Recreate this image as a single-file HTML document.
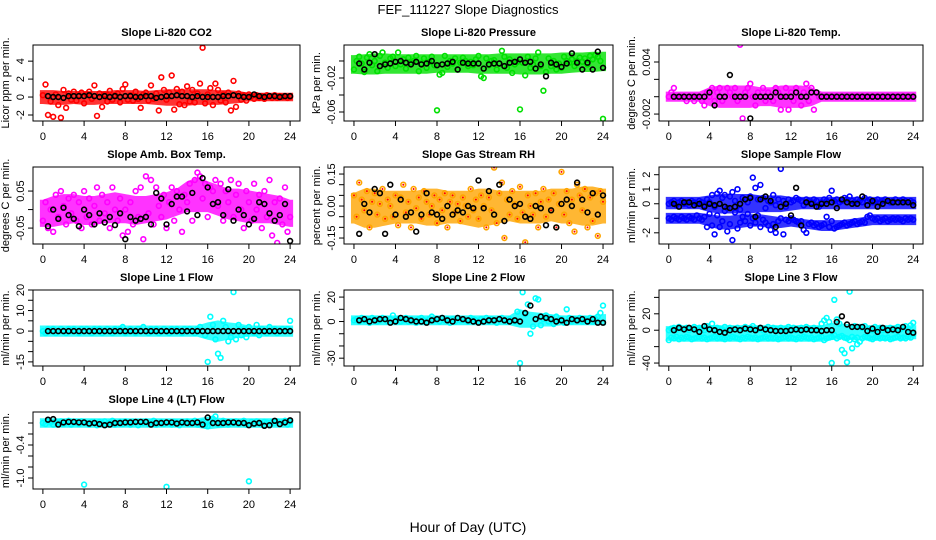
<!DOCTYPE html>
<html><head><meta charset="utf-8">
<style>
html,body{margin:0;padding:0;background:#fff;}
svg{display:block;font-family:"Liberation Sans",Arial,sans-serif;}
</style></head>
<body>
<svg id="chart" width="936" height="540" viewBox="0 0 936 540">
<text x="468" y="14" text-anchor="middle" font-size="13">FEF_111227  Slope Diagnostics</text>
<text x="468" y="532" text-anchor="middle" font-size="14">Hour of Day (UTC)</text>
</svg>
<script>
// ---- data ----
const co2Color = [0.2,1.4,-2.0,-0.5,-2.2,0.3,-0.9,-2.3,0.8,-1.2,0.4,-0.3,0.6,-0.4,0.2,0.5,-0.7,0.3,0.6,-0.2,1.3,-2.1,0.4,-1.1,0.3,-0.5,0.7,-0.3,0.2,0.4,-0.6,0.9,1.4,-0.3,0.2,-0.4,0.6,-0.2,-1.2,0.3,0.5,-0.4,1.3,-0.2,0.4,-1.5,2.2,0.8,-0.3,0.5,2.4,-1.4,0.9,-0.8,0.6,-0.9,1.2,-0.5,0.8,-0.6,0.4,1.5,5.5,-0.7,0.3,1.0,-0.9,1.5,0.8,-0.4,0.3,-0.6,0.5,-1.5,1.8,-1.1,0.4,-0.3,0.2,-0.4,0.3,0.1,-0.2,0.2,-0.1,0.1,-0.2,0.2,0.1,-0.1,0.2,-0.1,0.1,0.0,0.1,-0.1,0.0];
const co2Black = [0.1,0,0,-0.1,0.1,0.1,0.1,0.1,0.2,0.1,0,0.1,0,0.1,0,0.1,0.1,0,0,0.1,0.1,-0.1,0,0.1,0.1,0.2,0.1,0.1,0,0.1,0,0,0,0,0.1,0.1,0.2,0.1,0,0,0.3,0.1,0,0.1,0.1,0,0.1,0.1];
const co2BandLo = [-0.5,-0.6,-0.6,-0.5,-0.6,-0.6,-0.5,-0.5,-0.5,-0.5,-0.5,-0.6,-0.7,-0.7,-0.7,-0.6,-0.6,-0.6,-0.5,-0.4,-0.2,-0.2,-0.2,-0.2,-0.2];
const co2BandHi = [0.5,0.5,0.4,0.4,0.4,0.4,0.4,0.5,0.5,0.5,0.4,0.5,0.6,0.6,0.6,0.6,0.6,0.5,0.5,0.4,0.2,0.2,0.2,0.2,0.2];
// pressure in units of 0.001 kPa/min
const presColor = [-10,0,5,-3,-13,4,8,-5,0,-12,6,10,-2,-8,3,5,-6,10,-4,2,-9,4,-2,0,6,-12,-3,3,-8,-1,5,-5,-58,-16,-14,6,-7,0,-3,3,-10,-2,4,0,-6,-1,-5,2,6,-18,-20,3,-5,0,1,-10,-3,12,5,-8,2,-14,-4,-1,-57,-2,-17,5,-8,-4,3,10,-6,-35,-13,3,-6,0,-10,-3,-8,5,0,-2,2,-6,0,4,-1,3,-4,6,2,7,5,0,-68];
const presBlack = [-3,-10,-2,8,-6,-4,-3,-1,0,-2,-4,-1,-4,-3,0,-5,-4,-3,-1,-10,-2,-3,-3,-3,-9,-4,-3,-3,-6,-2,-1,2,-2,-1,-9,-4,-18,-2,-4,-7,-3,9,-2,-10,-2,-10,11,-8];
const presBandLo = [-12,-13,-13,-12,-12,-12,-12,-12,-11,-11,-11,-11,-12,-12,-12,-12,-13,-13,-13,-12,-12,-11,-10,-10,-9];
const presBandHi = [4,5,6,6,5,5,5,5,5,5,5,5,5,5,6,6,6,6,6,6,7,7,7,8,8];
// Li-820 temp in units of 0.001 C/min
const tempColor = [0,0.5,1,0,0,0,0,-0.5,0,0,-0.5,0,0,-0.5,-1,0.5,0,1,-0.5,0.5,1,-0.5,0,1,0.5,0,1,-0.5,6,-2.5,0.5,1,1.5,0,-1,0.5,0,1,-0.5,0.5,0,-0.5,1,0.5,-1.5,0,1,-1.5,0.5,-0.5,1,0,-1,0.5,1.5,-0.5,1,-1.5,0.5,0,0,0,0,0,0,0,0,0,0,0,0,0,0,0,0,0,0,0,0,0,0,0,0,0,0,0,0,0,0,0,0,0,0,0,0,0,0];
const tempBlack = [0,0,0,0,0,0,0,0.5,-1,0,0,2.5,0,0,0,-2.5,0,0,0,0,0.5,0,0,0,0.5,0,0,0.5,0.5,0,0,0,0,0,0,0,0,0,0,0,0,0,0,0,0,0,0,0];
const tempBandLo = [-0.3,-0.3,-0.3,-0.3,-0.8,-1,-1,-1,-1,-0.8,-0.8,-1,-1,-1,-0.8,-0.3,-0.3,-0.3,-0.3,-0.3,-0.3,-0.3,-0.3,-0.3,-0.3];
const tempBandHi = [0.3,0.3,0.3,0.3,0.8,1,1,1,1,0.8,0.8,1,1,1,0.8,0.3,0.3,0.3,0.3,0.3,0.3,0.3,0.3,0.3,0.3];
const boxColor = [-0.03,0.02,-0.05,0.0,-0.06,0.04,-0.02,0.05,0.01,-0.04,0.03,-0.01,0.04,-0.03,0.02,-0.05,0.05,-0.02,0.03,-0.04,0.01,0.06,-0.03,0.04,-0.01,0.02,-0.05,0.06,0.0,-0.03,0.03,-0.07,0.0,-0.06,0.02,-0.04,0.05,-0.02,0.06,-0.08,0.09,-0.01,0.08,-0.04,0.06,0.01,-0.02,0.04,-0.05,0.02,0.06,-0.03,0.05,0.0,-0.06,0.04,0.02,0.07,-0.03,0.08,0.1,0.09,0.03,0.07,-0.02,0.06,0.05,0.08,0.01,0.07,-0.03,0.05,0.02,0.08,-0.02,0.04,0.07,0.0,-0.05,0.05,0.02,-0.03,0.07,0.0,0.04,-0.05,0.05,-0.02,0.08,-0.07,0.02,-0.09,0.03,-0.04,0.06,-0.06,-0.02];
const boxBlack = [-0.045,0.0,-0.025,0.005,-0.015,-0.025,-0.045,0.0,-0.015,-0.04,-0.01,-0.035,-0.02,-0.042,-0.01,-0.08,-0.02,-0.03,-0.025,-0.02,-0.04,0.045,0.03,-0.04,0.015,0.035,0.035,-0.005,0.045,-0.015,0.085,0.06,0.015,0.02,-0.015,0.055,-0.03,0.0,-0.015,-0.04,-0.025,0.02,0.015,-0.01,-0.03,-0.015,0.015,-0.085];
const boxBandLo = [-0.04,-0.04,-0.035,-0.03,-0.035,-0.035,-0.03,-0.03,-0.03,-0.035,-0.03,-0.025,-0.02,-0.01,0.0,0.0,0.0,-0.01,-0.02,-0.025,-0.03,-0.03,-0.03,-0.035,-0.04];
const boxBandHi = [0.02,0.03,0.035,0.035,0.03,0.03,0.035,0.04,0.035,0.03,0.03,0.035,0.04,0.05,0.07,0.08,0.07,0.06,0.05,0.05,0.045,0.04,0.035,0.03,0.02];
const rhColor = [0.05,-0.05,0.11,0.03,-0.02,0.07,-0.1,0.02,0.06,-0.04,0.01,0.08,-0.06,0.03,0.0,-0.05,0.05,-0.09,0.04,0.1,-0.03,0.02,-0.1,0.08,-0.01,0.04,-0.06,0.07,0.02,-0.04,0.0,0.05,-0.08,0.03,-0.02,0.06,-0.1,0.02,0.05,-0.03,0.01,-0.07,0.04,0.0,-0.05,0.08,-0.02,0.03,-0.06,0.05,0.0,-0.1,0.04,-0.02,0.18,-0.08,0.06,0.11,-0.15,0.03,-0.04,0.07,0.01,-0.06,0.09,-0.03,-0.17,0.05,0.0,-0.04,0.06,-0.1,0.02,0.08,-0.05,0.03,-0.02,0.06,-0.1,0.01,0.16,-0.04,0.07,-0.08,0.03,-0.12,0.1,0.05,-0.02,0.08,-0.1,0.04,-0.07,0.06,-0.14,0.07,0.02];
const rhBlack = [-0.13,0.01,-0.03,0.08,0.06,-0.13,0.1,-0.04,0.03,-0.05,-0.03,-0.12,-0.04,0.06,-0.03,-0.04,-0.06,0.0,-0.04,-0.02,-0.03,0.0,-0.01,0.12,-0.01,0.07,-0.04,0.1,-0.07,0.03,0.0,0.01,-0.05,-0.06,0.0,-0.01,-0.09,-0.02,-0.1,0.01,0.03,0.0,0.11,0.03,-0.03,0.06,-0.04,0.05];
const rhBandLo = [-0.07,-0.09,-0.09,-0.08,-0.07,-0.07,-0.07,-0.08,-0.08,-0.07,-0.07,-0.08,-0.09,-0.08,-0.07,-0.06,-0.07,-0.07,-0.07,-0.06,-0.07,-0.07,-0.08,-0.08,-0.07];
const rhBandHi = [0.05,0.07,0.07,0.06,0.06,0.06,0.06,0.07,0.07,0.06,0.06,0.06,0.07,0.07,0.06,0.06,0.06,0.06,0.06,0.07,0.07,0.07,0.08,0.08,0.07];
const sampleUpper = [0,0.1,0.2,-0.1,0.1,0.2,0,0.1,-0.1,0.2,0.1,0,0.2,0.1,-0.1,0.3,0.1,0.6,-0.2,0.7,0.9,0.4,0.6,-0.3,0.5,0.8,0.2,1.0,-0.4,0.4,0.3,0.1,0.5,1.8,1.1,0.3,1.3,0.4,-0.3,0.2,0.1,0.6,-0.1,0.3,2.4,0.2,-0.2,0.3,0.1,0.2,0.4,0.3,0.2,-0.1,0.3,0.2,0.1,0.3,0.2,-0.2,0.1,0.3,0.2,0.4,0.9,0.2,0.3,0.1,0.2,0.4,0.3,0.5,0.2,0.1,0.3,0.2,0.1,0.4,0.2,0.3,0.1,0.2,0.3,0.1,0.2,0.3,0.2,0.1,0.2,0.3,0.1,0.2,0.3,0.2,0.1,0.2,0.1];
const sampleLower = [-1.0,-1.1,-0.9,-1.0,-1.1,-0.9,-1.0,-1.1,-0.9,-1.0,-1.1,-0.8,-1.0,-1.1,-0.9,-1.6,-0.7,-1.5,-2.1,-0.8,-1.6,-1.2,-0.5,-1.9,-1.4,-2.5,-0.6,-1.7,-1.3,-0.9,-1.2,-0.7,-1.5,-1.0,-1.3,-0.8,-1.6,-1.1,-1.3,-1.5,-1.8,-1.4,-2.0,-1.2,-1.0,-2.1,-1.1,-1.2,-1.0,-1.1,-1.2,-1.3,-1.2,-1.8,-2.0,-1.4,-1.3,-1.5,-1.4,-1.6,-1.5,-1.4,-0.9,-1.6,-1.2,-1.7,-1.6,-1.5,-1.4,-1.3,-1.5,-1.4,-1.3,-1.2,-1.4,-1.3,-1.2,-1.3,-0.9,-0.8,-1.0,-1.1,-1.0,-1.2,-1.1,-1.0,-1.2,-1.1,-1.0,-1.1,-1.0,-1.1,-1.2,-1.0,-1.1,-1.0,-1.1];
const sampleBlack = [0,-0.2,0.1,0.1,-0.1,0,-0.2,0,-0.1,0,-0.2,-0.3,-0.2,0,0.3,0.4,-0.9,0.3,0.5,0.2,-1.6,-0.2,0,-0.8,1.1,-1.5,0.1,0,-0.2,0,0,0.1,-0.3,0.3,0.1,0,0,0.5,-0.1,0.2,-0.2,0,0.2,0.1,0.1,0.1,0.1,-0.1];
const sampleBandLo = [-0.2,-0.2,-0.2,-0.2,-0.4,-0.5,-0.5,-0.5,-0.5,-0.4,-0.4,-0.4,-0.3,-0.2,-0.2,-0.2,-0.2,-0.2,-0.2,-0.2,-0.2,-0.2,-0.2,-0.2,-0.2];
const sampleBandHi = [0.3,0.3,0.3,0.3,0.4,0.5,0.5,0.5,0.5,0.4,0.4,0.4,0.3,0.3,0.3,0.3,0.3,0.3,0.3,0.3,0.3,0.3,0.3,0.3,0.3];
const sampleLowBandLo = [-1.2,-1.2,-1.2,-1.2,-1.4,-1.6,-1.6,-1.5,-1.4,-1.4,-1.5,-1.5,-1.4,-1.5,-1.6,-1.7,-1.7,-1.6,-1.5,-1.4,-1.3,-1.3,-1.3,-1.3,-1.3];
const sampleLowBandHi = [-0.8,-0.8,-0.8,-0.8,-0.9,-1.0,-1.0,-0.9,-0.9,-0.9,-1.0,-1.1,-1.1,-1.2,-1.3,-1.3,-1.3,-1.3,-1.2,-1.1,-0.9,-0.9,-0.9,-0.9,-0.9];
const line1Color = [0,-1,1,0,1,-1,0,1,0,-1,1,0,1,0,-1,1,0,1,0,-1,1,0,1,-1,0,1,0,-1,1,0,1,2,-1,0,1,0,-1,1,0,2,0,-1,1,0,1,-1,0,1,0,-1,1,0,1,0,-1,1,0,1,0,-1,1,2,0,-2,-15,7,3,-4,-11,-13,5,2,-5,-3,19,-4,3,-2,1,-3,2,0,-1,3,-2,1,0,-1,2,0,1,-1,0,1,0,1,5];
const line1Black = [0,0,0,0,0,0,0,0,0,0,0,0,0,0,0,0,0,0,0,0,0,0,0,0,0,0,0,0,0,0,0,0,0,0,0,0,0,0,0,0,0,0,0,0,0,0,0,0];
const line1BandLo = [-1.5,-1.5,-1.5,-1.5,-1.5,-1.5,-1.5,-1.5,-1.5,-1.5,-1.5,-1.5,-1.5,-1.5,-1.5,-1.5,-3,-4,-3,-2,-1.5,-1.5,-1.5,-1.5,-1.5];
const line1BandHi = [1.5,1.5,1.5,1.5,1.5,1.5,1.5,1.5,1.5,1.5,1.5,1.5,1.5,1.5,1.5,1.5,3,4,3,2.5,1.5,1.5,1.5,1.5,1.5];
const line2Color = [1,2,0,3,1,2,-1,3,2,0,1,3,2,0,2,5,1,2,0,1,3,0,2,1,-1,2,3,1,0,2,4,1,2,0,3,1,2,-1,2,0,3,1,2,1,0,3,2,1,0,2,1,3,0,2,1,-1,2,3,1,0,2,1,0,8,-34,24,6,14,-10,-4,19,18,-3,2,5,0,3,-2,4,1,2,-1,10,3,0,2,1,3,0,2,1,3,0,2,4,7,13];
const line2Black = [1,2,0,1,2,2,-1,0,3,2,1,0,0,-1,1,2,3,1,0,3,2,1,0,-1,0,1,1,2,1,0,1,0,7,13,2,4,3,2,0,1,-1,2,1,2,0,2,-1,-1];
const line2BandLo = [-1,-1,-1,-1,-1,-1,-1,-1,-1,-1,-1,-1,-1,-1,-1,-1,-3,-3,-2,-2,-1,-1,-1,-1,-1];
const line2BandHi = [3,3,3,3,3,3,3,3,3,3,3,3,3,3,3,3,8,6,5,4,3,3,3,3,4];
const line3Upper = [0,2,3,1,4,2,1,3,0,2,4,1,3,2,0,5,2,8,1,3,2,1,4,0,3,2,1,3,0,2,4,1,3,5,2,1,3,0,2,4,1,3,2,0,3,1,2,4,1,3,0,2,3,1,4,2,0,3,1,2,8,12,15,10,-40,37,13,8,-24,-28,-39,47,-22,5,-17,4,3,5,-8,2,0,4,1,3,0,2,1,3,0,2,4,1,3,5,2,6,9];
const line3Lower = [-12,-9,-10,-8,-11,-9,-10,-8,-9,-11,-10,-9,-8,-10,-9,-11,-10,-9,-8,-10,-9,-10,-11,-9,-10,-8,-9,-10,-11,-9,-10,-8,-9,-10,-9,-11,-10,-9,-8,-10,-9,-10,-9,-11,-10,-9,-8,-10,-9,-10,-11,-9,-10,-8,-9,-10,-9,-11,-10,-9,-8,-12,-10,-9,-8,-6,-10,-8,-7,-9,-10,-12,-8,-11,-9,-14,-10,-8,-9,-10,-11,-9,-8,-10,-9,-10,-9,-11,-10,-9,-8,-10,-9,-10,-8,-9,-5];
const line3Black = [0,3,1,3,1,-2,5,1,0,-2,-3,0,1,0,2,1,0,3,1,0,-1,-1,-1,0,1,0,1,0,0,-1,0,0,10,17,7,4,4,4,-1,2,-2,3,0,1,0,4,-2,-3];
const line3BandLo = [-10,-11,-11,-11,-11,-11,-11,-11,-11,-11,-11,-11,-11,-11,-11,-11,-9,-8,-9,-9,-10,-10,-10,-9,-8];
const line3BandHi = [2,3,3,3,3,3,3,3,3,3,3,3,3,3,3,3,6,5,4,3,3,3,3,3,3];
const line4Color = [0,-0.02,0.03,0.01,-0.03,0.02,0,0.03,-0.02,0.01,0.04,-0.03,0,0.02,-0.02,0.03,-1.12,0,-0.03,0.02,0.01,-0.04,0.02,0,0.03,-0.02,0.01,0.04,-0.03,0,0.02,-0.02,0.03,0,-0.03,0.02,0.01,-0.04,0.02,0,0.03,-0.02,0.01,0.04,-0.03,0,0.02,-0.02,-1.16,0,-0.03,0.02,0.01,-0.04,0.02,0,0.03,-0.02,0.01,0.04,-0.03,0,0.02,-0.04,-0.06,0.03,0.08,0.12,-0.03,-0.02,0.04,0.01,-0.03,0.02,0,0.03,-0.02,0.01,0.04,-0.03,-1.06,0.02,-0.02,0.03,0,-0.03,0.02,0.01,-0.04,0.02,0,0.03,-0.02,0.01,0.04,-0.03,0.02];
const line4Black = [0.06,0.07,-0.03,0.01,0.02,0.02,0.01,0.01,-0.01,0,-0.02,-0.04,-0.03,0,0,0.01,0.01,0.02,0.02,0.02,-0.03,0,0,0.01,0.01,-0.01,0.01,0,0,0.01,-0.03,0.1,0,0,0,0.01,0.01,0,0,-0.04,-0.01,0,-0.05,-0.04,0.04,-0.02,0.01,0.05];
const line4BandLo = [-0.04,-0.04,-0.04,-0.04,-0.04,-0.04,-0.04,-0.04,-0.04,-0.04,-0.04,-0.04,-0.04,-0.04,-0.04,-0.04,-0.07,-0.05,-0.04,-0.04,-0.04,-0.04,-0.04,-0.04,-0.04];
const line4BandHi = [0.04,0.04,0.04,0.04,0.04,0.04,0.04,0.04,0.04,0.04,0.04,0.04,0.04,0.04,0.04,0.04,0.07,0.05,0.04,0.04,0.04,0.04,0.04,0.04,0.04];
const xTicks = [0,4,8,12,16,20,24];
const panelTitles = ["Slope Li-820 CO2","Slope Li-820 Pressure","Slope Li-820 Temp.","Slope Amb. Box Temp.","Slope Gas Stream RH","Slope Sample Flow","Slope Line 1 Flow","Slope Line 2 Flow","Slope Line 3 Flow","Slope Line 4 (LT) Flow"];
const yTitles = ["Licor ppm per min.","kPa per min.","degrees C per min.","degrees C per min.","percent per min.","ml/min per min.","ml/min per min.","ml/min per min.","ml/min per min.","ml/min per min."];
const yTickVals = [[-2,0,2,4],[-60,-40,-20,0],[-2,0,2,4],[-0.05,0,0.05],[-0.15,-0.1,-0.05,0,0.05,0.1,0.15],[-2,-1,0,1,2],[-15,-10,-5,0,5,10,15,20],[-30,-20,-10,0,10,20],[-40,-20,0,20,40],[-1.0,-0.8,-0.6,-0.4,-0.2,0]];
const yTickLabels = [["-2","0","2","4"],["-0.06","","-0.02",""],["-0.002","","","0.004"],["-0.05","","0.05"],["-0.15","","","0.00","","","0.15"],["-2","","0","1","2"],["-15","","","0","","10","","20"],["-30","","","0","","20"],["-40","","0","20",""],["-1.0","","","-0.4","",""]];
const yDomains = [[-2.67,5.8],[-70.6,18.8],[-2.8,5.96],[-0.093,0.115],[-0.178,0.183],[-2.77,2.53],[-17,20],[-36.4,25.8],[-43.6,49],[-1.2,0.2]];
const colorSeries = [[co2Color],[presColor],[tempColor],[boxColor],[rhColor],[sampleUpper,sampleLower],[line1Color],[line2Color],[line3Upper,line3Lower],[line4Color]];
const bandSeries = [[[co2BandLo,co2BandHi]],[[presBandLo,presBandHi]],[[tempBandLo,tempBandHi]],[[boxBandLo,boxBandHi]],[[rhBandLo,rhBandHi]],[[sampleBandLo,sampleBandHi],[sampleLowBandLo,sampleLowBandHi]],[[line1BandLo,line1BandHi]],[[line2BandLo,line2BandHi]],[[line3BandLo,line3BandHi]],[[line4BandLo,line4BandHi]]];
const blackSeries = [co2Black,presBlack,tempBlack,boxBlack,rhBlack,sampleBlack,line1Black,line2Black,line3Black,line4Black];
const seriesColors = ["#ff0000","#00e000","#ff00ff","#ff00ff","#ffa500","#0000ff","#00ffff","#00ffff","#00ffff","#00ffff"];

// ---- layout ----
const colBoxes = [[33,300],[344,613],[659,923]];
const rowBoxes = [[45,121],[167,244],[290,366],[412,489]];
const xDom = [-0.96,24.96];
const NS = "http://www.w3.org/2000/svg";
const svg = document.getElementById("chart");
function mk(tag, attrs, parent){const e=document.createElementNS(NS,tag);for(const k in attrs)e.setAttribute(k,attrs[k]);(parent||svg).appendChild(e);return e;}

panelTitles.forEach((title,p)=>{
  const [x0,x1] = colBoxes[p%3];
  const [y0,y1] = rowBoxes[Math.floor(p/3)];
  const g = mk("g",{});
  
  
  const xs = v => x0 + (v - xDom[0]) / (xDom[1]-xDom[0]) * (x1-x0);
  const [d0,d1] = yDomains[p];
  const ys = v => y1 - (v - d0) / (d1-d0) * (y1-y0);
  const cp = mk("clipPath",{id:"clip"+p},g);
  mk("rect",{x:x0,y:y0,width:x1-x0,height:y1-y0},cp);
  const pts = mk("g",{"clip-path":"url(#clip"+p+")"},g);
  // dense point cloud bands
  bandSeries[p].forEach(([lo,hi])=>{
    const top = hi.map((v,i)=>`${xs(i*24/(hi.length-1)).toFixed(1)},${(ys(v)-2.5).toFixed(1)}`);
    const bot = lo.map((v,i)=>`${xs(i*24/(lo.length-1)).toFixed(1)},${(ys(v)+2.5).toFixed(1)}`).reverse();
    const first = xs(0)-3, last = xs(24)+3;
    const poly = mk("polygon",{points:[`${first},${(ys(hi[0])-2.5).toFixed(1)}`,...top,`${last},${(ys(hi[hi.length-1])-2.5).toFixed(1)}`,`${last},${(ys(lo[lo.length-1])+2.5).toFixed(1)}`,...bot,`${first},${(ys(lo[0])+2.5).toFixed(1)}`].join(" "),fill:seriesColors[p],"fill-opacity":0.8},pts);
    
    
  });
  colorSeries[p].forEach(arr=>{
    arr.forEach((v,i)=>{
      const h = i*24/(arr.length-1);
      const c = mk("circle",{cx:xs(h).toFixed(1),cy:ys(v).toFixed(1),r:2.4,fill:"none",stroke:seriesColors[p],"stroke-width":1.6},pts);
      
      
    });
  });
  if(p===4){
    colorSeries[p][0].forEach((v,i,arr)=>{
      const h = i*24/(arr.length-1);
      mk("circle",{cx:xs(h).toFixed(1),cy:ys(v).toFixed(1),r:1,fill:"#ff0000"},pts);
    });
  }
  const bk = blackSeries[p];
  bk.forEach((v,i)=>{
    const h = 0.5 + i*23.5/(bk.length-1);
    const c = mk("circle",{cx:xs(h).toFixed(1),cy:ys(v).toFixed(1),r:2.4,fill:"none",stroke:"#000","stroke-width":1.6},pts);
    
    
  });
  const box = mk("rect",{x:x0,y:y0,width:x1-x0,height:y1-y0,fill:"none",stroke:"#000","stroke-width":1},g);
  
  
  const t = mk("text",{x:(x0+x1)/2,y:y0-9,"text-anchor":"middle","font-size":11,"font-weight":"bold"},g);
  t.textContent = title;
  
  
  mk("line",{x1:xs(xTicks[0]),x2:xs(xTicks[xTicks.length-1]),y1:y1,y2:y1,stroke:"#000"},g);
  xTicks.forEach(v=>{
    mk("line",{x1:xs(v),x2:xs(v),y1:y1,y2:y1+5,stroke:"#000"},g);
    const tl = mk("text",{x:xs(v),y:y1+19,"text-anchor":"middle","font-size":11},g);
    tl.textContent = v;
    
    
  });
  const tv = yTickVals[p];
  mk("line",{x1:x0,x2:x0,y1:ys(tv[0]),y2:ys(tv[tv.length-1]),stroke:"#000"},g);
  tv.forEach((v,i)=>{
    mk("line",{x1:x0-5,x2:x0,y1:ys(v),y2:ys(v),stroke:"#000"},g);
    const lab = yTickLabels[p][i];
    if(lab){
      const yy = ys(v);
      const tl = mk("text",{x:x0-9,y:yy,"text-anchor":"middle","font-size":11,transform:`rotate(-90 ${x0-9} ${yy})`},g);
      tl.textContent = lab;
      
      
    }
  });
  const ym = (y0+y1)/2, yx = x0-24;
  const yt = mk("text",{x:yx,y:ym,"text-anchor":"middle","font-size":11,transform:`rotate(-90 ${yx} ${ym})`},g);
  yt.textContent = yTitles[p];
  
  
});
</script>
</body></html>
